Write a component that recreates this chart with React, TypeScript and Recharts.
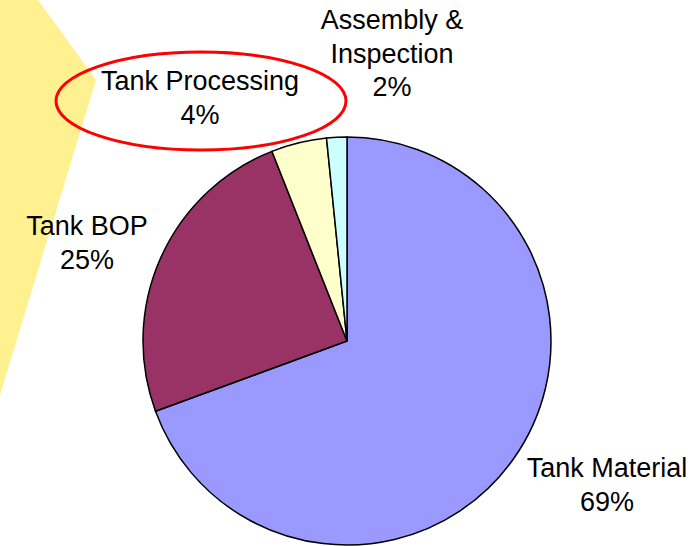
import React from 'react';
import { PieChart, Pie, Cell, Customized } from 'recharts';

const names = ['Tank Material', 'Tank BOP', 'Tank Processing', 'Assembly & Inspection'];
const shares = [69.4, 24.6, 4.4, 1.6];
const pctLabels = ['69%', '25%', '4%', '2%'];
const colors = ['#9999FF', '#993366', '#FFFFCC', '#CCFFFF'];

const data = names.map((name, i) => ({ name, value: shares[i], pct: pctLabels[i] }));

// where each label block sits (center x, first baseline y) and how it wraps
const labelLayout: Record<string, { x: number; y: number; lines: string[] }> = {
  'Tank Material': { x: 607, y: 477, lines: ['Tank Material'] },
  'Tank BOP': { x: 87, y: 235, lines: ['Tank BOP'] },
  'Tank Processing': { x: 200, y: 90, lines: ['Tank Processing'] },
  'Assembly & Inspection': { x: 392, y: 29, lines: ['Assembly &', 'Inspection'] },
};

const font = '"Liberation Sans", Arial, sans-serif';

function Decor() {
  return (
    <g>
      <polygon points="0,0 38,0 96,80 0,395" fill="#FFF18F" />
      <ellipse cx={201} cy={101} rx={145} ry={49} fill="none" stroke="#FF0000" strokeWidth={3} />
    </g>
  );
}

function Labels() {
  return (
    <g>
      {data.map((d) => {
        const l = labelLayout[d.name];
        const lines = [...l.lines, d.pct];
        return (
          <text key={d.name} x={l.x} y={l.y} textAnchor="middle" fontFamily={font} fontSize={27} fill="#000">
            {lines.map((t, i) => (
              <tspan key={i} x={l.x} y={l.y + i * 33.5}>{t}</tspan>
            ))}
          </text>
        );
      })}
    </g>
  );
}

export default function App() {
  return (
    <div style={{ position: 'absolute', left: 0, top: 0, width: 700, height: 546, background: '#fff' }}>
      <PieChart width={700} height={546} margin={{ top: 0, right: 0, bottom: 0, left: 0 }}>
        <Customized component={Decor} />
        <Pie
          data={data}
          dataKey="value"
          nameKey="name"
          cx={347}
          cy={341}
          outerRadius={204}
          startAngle={90}
          endAngle={-270}
          stroke="#000"
          strokeWidth={1.5}
          isAnimationActive={false}
          label={false}
          labelLine={false}
        >
          {data.map((d, i) => (
            <Cell key={d.name} fill={colors[i]} />
          ))}
        </Pie>
        <Customized component={Labels} />
      </PieChart>
    </div>
  );
}
